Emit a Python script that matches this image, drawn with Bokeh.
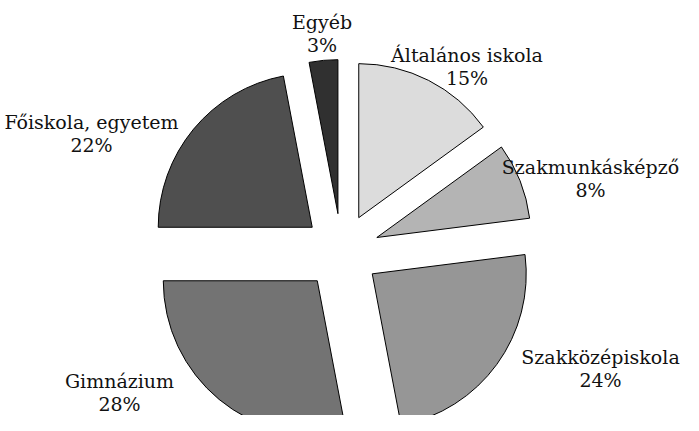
import numpy as np
from bokeh.plotting import figure
from bokeh.models import ColumnDataSource, Range1d
from bokeh.embed import file_html
from bokeh.resources import INLINE
from bokeh.core.properties import value

# ---- data ----
categories = ["Általános iskola", "Szakmunkásképző", "Szakközépiskola",
              "Gimnázium", "Főiskola, egyetem", "Egyéb"]
shares = [15, 8, 24, 28, 22, 3]
pct_labels = ["15%", "8%", "24%", "28%", "22%", "3%"]

# ---- style / layout ----
colors = ["#dcdcdc", "#b4b4b4", "#969696", "#737373", "#4f4f4f", "#303030"]
W, H = 683, 415
CX, CY = 341, 164          # pie centre (pixels, y up)
R = 154                    # radius (pixels)
EXPLODE = 38               # radial explosion of every slice
# label anchor offsets from pie centre (right, up) -> first-line baseline
label_offsets = [(125.5, 197), (249, 85), (259, -105),
                 (-222, -129), (-250, 130), (-19.5, 230)]
LINE_GAP = 23.5
FONT = "DejaVu Serif"

frac = np.array(shares, dtype=float) / sum(shares)
cum = np.cumsum(frac)
th1 = 2 * np.pi * (cum - frac)
th2 = 2 * np.pi * cum
mid = (th1 + th2) / 2

wedges = ColumnDataSource(dict(
    x=CX + EXPLODE * np.sin(mid),
    y=CY + EXPLODE * np.cos(mid),
    start=np.pi / 2 - th2,
    end=np.pi / 2 - th1,
    color=colors,
))

lx = [CX + dx for dx, dy in label_offsets]
ly = [CY + dy for dx, dy in label_offsets]
labels = ColumnDataSource(dict(
    x=lx, y1=ly, y2=[v - LINE_GAP for v in ly],
    name=categories, pct=pct_labels,
))

p = figure(width=W, height=H, x_range=Range1d(0, W), y_range=Range1d(0, H),
           output_backend="svg", toolbar_location=None, min_border=0,
           x_axis_location=None, y_axis_location=None)
p.grid.visible = False
p.outline_line_color = None
p.background_fill_color = "white"

p.wedge(x="x", y="y", radius=R, start_angle="start", end_angle="end",
        fill_color="color", line_color="black", line_width=1, source=wedges)

for col in ("name", "pct"):
    p.text(x="x", y="y1" if col == "name" else "y2", text=col, source=labels,
           text_font=value(FONT), text_font_size="19px", text_align="center",
           text_baseline="alphabetic", text_color="#111111")

open("out.html", "w").write(file_html(p, INLINE))
